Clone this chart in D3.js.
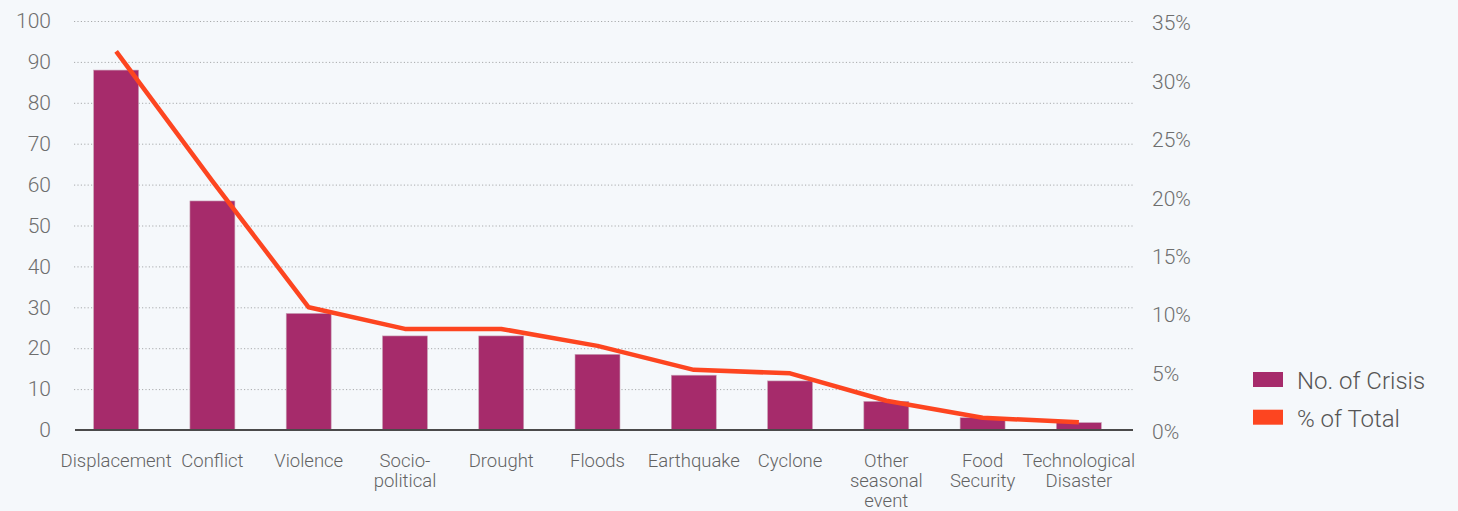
<!DOCTYPE html>
<html>
<head>
<meta charset="utf-8">
<script src="https://cdn.jsdelivr.net/npm/d3@7"></script>
<style>
  html, body { margin: 0; padding: 0; background: #f5f8fb; }
  svg { display: block; }
  text { font-family: Roboto, "Liberation Sans", Arial, sans-serif; font-weight: 300; }
</style>
</head>
<body>
<svg id="chart" width="1458" height="511"></svg>
<script>
// Crisis types (line breaks mark wrapped labels)
const categories = [
  "Displacement", "Conflict", "Violence", "Socio-\npolitical", "Drought",
  "Floods", "Earthquake", "Cyclone", "Other\nseasonal\nevent",
  "Food\nSecurity", "Technological\nDisaster"
];
// Number of crises per type
const crisisCounts = [88, 56, 28.5, 23, 23, 18.5, 13.4, 12, 7, 3, 1.8];
// Share of total, in percent
const shareOfTotal = [32.4, 21.3, 10.5, 8.65, 8.65, 7.2, 5.15, 4.85, 2.5, 1.05, 0.66];
// Axis ticks
const countTicks = [0, 10, 20, 30, 40, 50, 60, 70, 80, 90, 100];
const shareTicks = [0, 5, 10, 15, 20, 25, 30, 35];
const seriesNames = ["No. of Crisis", "% of Total"];

const barColor = "#a62b6b";
const lineColor = "#fd4520";

const svg = d3.select("#chart");

const plotLeft = 74, plotRight = 1133;
const yTop = 21, yBottom = 430;

const x = d3.scaleBand()
  .domain(categories)
  .range([68, 1127])
  .paddingInner(0.533)
  .paddingOuter(0.2665);

const yCount = d3.scaleLinear().domain([0, 100]).range([yBottom, yTop]);
const yShare = d3.scaleLinear().domain([0, 35]).range([yBottom, yTop]);

// Dotted gridlines at the count ticks
const grid = svg.append("g")
  .attr("transform", `translate(${plotLeft},0)`)
  .call(d3.axisLeft(yCount)
    .tickValues(countTicks.filter(d => d > 0))
    .tickSize(-(plotRight - plotLeft))
    .tickFormat(""));
grid.select(".domain").remove();
grid.selectAll(".tick line")
  .attr("stroke", "#a9abad")
  .attr("stroke-width", 1)
  .attr("stroke-dasharray", "1.2,2.2");

// Left axis labels
const leftAxis = svg.append("g")
  .attr("transform", "translate(51,0)")
  .call(d3.axisLeft(yCount).tickValues(countTicks).tickSize(0).tickPadding(0));
leftAxis.select(".domain").remove();
leftAxis.selectAll("text")
  .attr("fill", "#6e6e6e")
  .style("font-size", "21px");

// Right axis labels
const rightAxis = svg.append("g")
  .attr("transform", "translate(1152,2)")
  .call(d3.axisRight(yShare).tickValues(shareTicks).tickSize(0).tickPadding(0)
    .tickFormat(d => d + "%"));
rightAxis.select(".domain").remove();
rightAxis.selectAll("text")
  .attr("fill", "#6e6e6e")
  .style("font-size", "21px");

// Bars
svg.append("g")
  .selectAll("rect")
  .data(categories)
  .join("rect")
  .attr("x", d => x(d))
  .attr("width", x.bandwidth())
  .attr("y", (d, i) => yCount(crisisCounts[i]))
  .attr("height", (d, i) => yCount(0) - yCount(crisisCounts[i]))
  .attr("fill", barColor)
  .attr("stroke", "#c8a3b6")
  .attr("stroke-width", 0.6);

// Baseline
svg.append("line")
  .attr("x1", plotLeft + 1).attr("x2", plotRight)
  .attr("y1", yBottom).attr("y2", yBottom)
  .attr("stroke", "#4a4a4a")
  .attr("stroke-width", 2);

// Share line
const line = d3.line()
  .x((d, i) => x(categories[i]) + x.bandwidth() / 2)
  .y(d => yShare(d));
svg.append("path")
  .datum(shareOfTotal)
  .attr("d", line)
  .attr("fill", "none")
  .attr("stroke", lineColor)
  .attr("stroke-width", 4.5)
  .attr("stroke-linejoin", "round");

// Category labels
const labels = svg.append("g")
  .selectAll("text")
  .data(categories)
  .join("text")
  .attr("text-anchor", "middle")
  .attr("fill", "#636363")
  .style("font-size", "18.5px")
  .attr("transform", d => `translate(${x(d) + x.bandwidth() / 2},460.5)`);
labels.selectAll("tspan")
  .data(d => d.split("\n"))
  .join("tspan")
  .attr("x", 0)
  .attr("y", (d, i) => i * 20)
  .attr("dy", "0.35em")
  .text(d => d);

// Legend
const legend = svg.append("g");
const legendItems = legend.selectAll("g")
  .data(seriesNames)
  .join("g")
  .attr("transform", (d, i) => `translate(1253,${372 + i * 37.7})`);
legendItems.append("rect")
  .attr("width", 30)
  .attr("height", 15)
  .attr("fill", (d, i) => i === 0 ? barColor : lineColor);
legendItems.append("text")
  .attr("x", 44)
  .attr("y", 8.5)
  .attr("dy", "0.35em")
  .attr("fill", "#555")
  .style("font-size", "24px")
  .text(d => d);
</script>
</body>
</html>
